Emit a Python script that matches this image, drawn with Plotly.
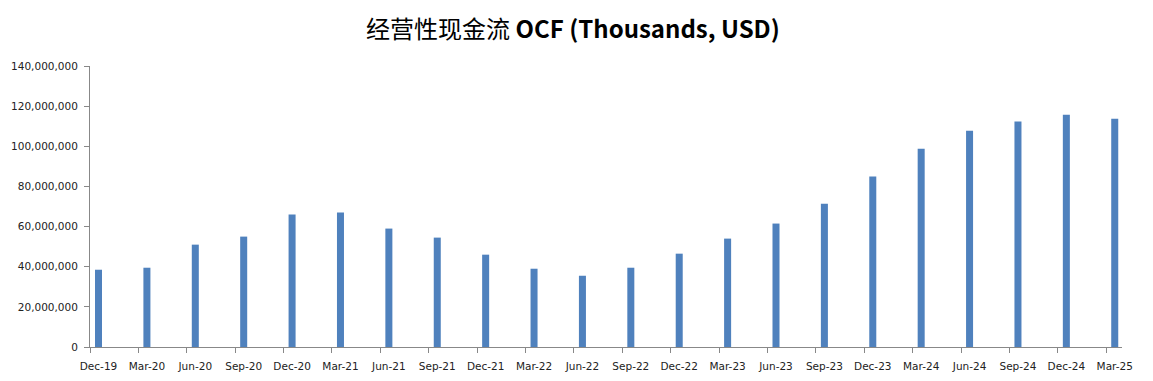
import plotly.graph_objects as go

quarters = ["Dec-19", "Mar-20", "Jun-20", "Sep-20", "Dec-20", "Mar-21", "Jun-21", "Sep-21",
            "Dec-21", "Mar-22", "Jun-22", "Sep-22", "Dec-22", "Mar-23", "Jun-23", "Sep-23",
            "Dec-23", "Mar-24", "Jun-24", "Sep-24", "Dec-24", "Mar-25"]
ocf = [38.5e6, 39.5e6, 51.0e6, 55.0e6, 66.0e6, 67.0e6, 59.0e6, 54.5e6,
       46.0e6, 39.0e6, 35.5e6, 39.5e6, 46.5e6, 54.0e6, 61.5e6, 71.4e6,
       84.9e6, 98.8e6, 107.8e6, 112.3e6, 115.7e6, 113.7e6]

idx = list(range(len(quarters)))
left_pad = 0.176   # axis starts slightly left of the first bar (Excel date-axis look)
right_pad = 0.15

fig = go.Figure(go.Bar(x=idx, y=ocf, width=0.145,
                       marker=dict(color="#4F81BD", line=dict(width=0))))

fig.update_layout(
    width=1153, height=381,
    paper_bgcolor="white", plot_bgcolor="white",
    margin=dict(l=82, r=39, t=58, b=42),
    showlegend=False,
    title=dict(
        text="经营性现金流 <b>OCF (Thousands, USD)</b>",
        x=0.49, xanchor="center", y=0.942, yanchor="middle",
        font=dict(family="Noto Sans CJK SC, sans-serif", size=24, color="black"),
    ),
    font=dict(family="DejaVu Sans, Verdana, sans-serif", size=10.5, color="#222222"),
)
fig.update_xaxes(
    range=[-left_pad, idx[-1] + right_pad], automargin=False,
    tickmode="array", tickvals=idx, ticktext=quarters, ticks="",
    showline=True, linecolor="#888888", linewidth=1,
    showgrid=False, zeroline=False, tickangle=0, ticklabelstandoff=9,
    tickfont=dict(size=10.5, color="#222222"),
    minor=dict(ticks="outside", tick0=-left_pad, dtick=1, ticklen=5,
               tickcolor="#888888", showgrid=False),
)
fig.update_yaxes(
    range=[0, 140e6], dtick=20e6, tickformat=",", automargin=False,
    showline=True, linecolor="#888888", linewidth=1,
    ticks="outside", ticklen=5, tickcolor="#888888", showgrid=False,
    zeroline=False, tickfont=dict(size=10.5, color="#222222"), ticklabelstandoff=4,
)

fig.write_html("out.html")
